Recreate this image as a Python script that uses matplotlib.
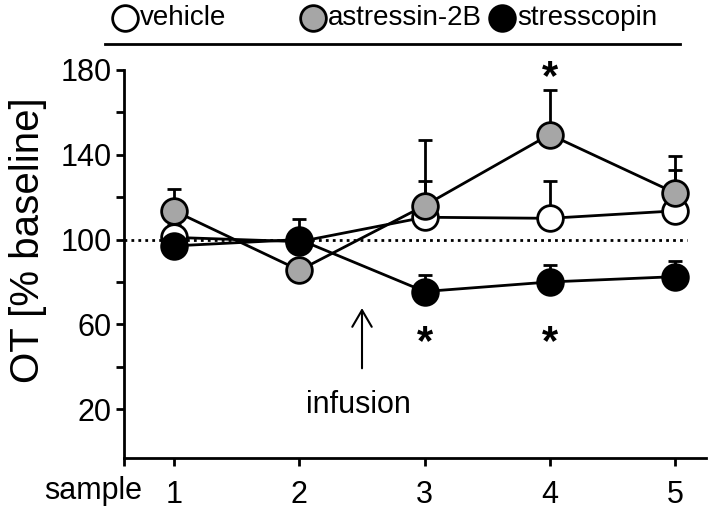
import numpy as np
from matplotlib import pyplot as plt
from matplotlib.lines import Line2D

plt.rcParams['font.family'] = ['Liberation Sans', 'DejaVu Sans']

# data (% baseline), upper SEM only
samples = np.array([1, 2, 3, 4, 5])
vehicle = np.array([101, 99, 110.5, 110, 113.5])
vehicle_err = np.array([6, 0, 17, 17.5, 19.5])
astressin = np.array([113.5, 85.5, 116, 149.5, 122])
astressin_err = np.array([10.5, 0, 31, 21, 17.5])
stresscopin = np.array([97, 100, 75.5, 80, 82.5])
stresscopin_err = np.array([0, 9.5, 8, 8, 7.5])

# significance stars (x, y)
stars_x = [4, 3, 4]
stars_y = [176, 51, 51]

W, H = 714, 517
fig = plt.figure(figsize=(W / 100, H / 100), dpi=100)
ax = fig.add_axes([0.174, 0.114, 0.815, 0.751])

ms = 18.5
mew = 2
lw = 2

series = [(vehicle, vehicle_err, 'white', 'vehicle'),
          (astressin, astressin_err, '#a6a6a6', 'astressin-2B'),
          (stresscopin, stresscopin_err, 'black', 'stresscopin')]

z = 3
for vals, err, col, name in series:
    ax.errorbar(samples, vals, yerr=[np.zeros_like(err), err], fmt='none',
                ecolor='black', elinewidth=lw, capsize=5, capthick=lw, zorder=z)
    ax.plot(samples, vals, '-o', color='black', lw=lw, ms=ms, mfc=col,
            mec='black', mew=mew, zorder=z + 0.5)
    z += 1

# baseline
ax.plot([0.6, 5.1], [100, 100], ls=(0, (1, 1.5)), color='black', lw=2, zorder=1)

for sx, sy in zip(stars_x, stars_y):
    ax.text(sx, sy, '*', ha='center', va='center', fontsize=30, fontweight='bold')

# infusion arrow
ax.annotate('', xy=(2.5, 69), xytext=(2.5, 38),
            arrowprops=dict(arrowstyle='->,head_length=0.6,head_width=0.35',
                            color='black', lw=1.5, mutation_scale=20))
ax.text(2.47, 22, 'infusion', ha='center', va='center', fontsize=22)

ax.set_xlim(0.6, 5.25)
ax.set_ylim(-3, 180)
ax.set_xticks([0.6, 1, 2, 3, 4, 5])
ax.set_xticklabels(['', '1', '2', '3', '4', '5'])
ax.set_yticks([20, 60, 100, 140, 180])
ax.set_yticks([40, 80, 120, 160], minor=True)
ax.tick_params(axis='both', which='both', direction='out', width=2, length=6,
               labelsize=22)
ax.tick_params(axis='x', pad=10)
ax.tick_params(axis='y', pad=3)
ax.spines['top'].set_visible(False)
ax.spines['right'].set_visible(False)
ax.spines['left'].set_linewidth(2)
ax.spines['bottom'].set_linewidth(2)
ax.spines['left'].set_bounds(-3, 180)
ax.text(-0.165, 0.56, 'OT [% baseline]', transform=ax.transAxes, rotation=90,
        ha='center', va='center', fontsize=29)
ax.text(-0.053, -0.085, 'sample', transform=ax.transAxes, ha='center',
        va='center', fontsize=22)

# legend on top with underline
leg_x = [125, 313, 502]
for (_, _, c, name), px in zip(series, leg_x):
    fig.add_artist(Line2D([px / W], [1 - 18 / H], ls='none', marker='o', ms=ms,
                          mfc=c, mec='black', mew=mew))
    fig.text((px + 15) / W, 1 - 18 / H, name, ha='left', va='center', fontsize=20)
fig.add_artist(Line2D([105 / W, 680 / W], [1 - 44 / H, 1 - 44 / H], color='black', lw=2))

fig.savefig('out.png', dpi=100)
